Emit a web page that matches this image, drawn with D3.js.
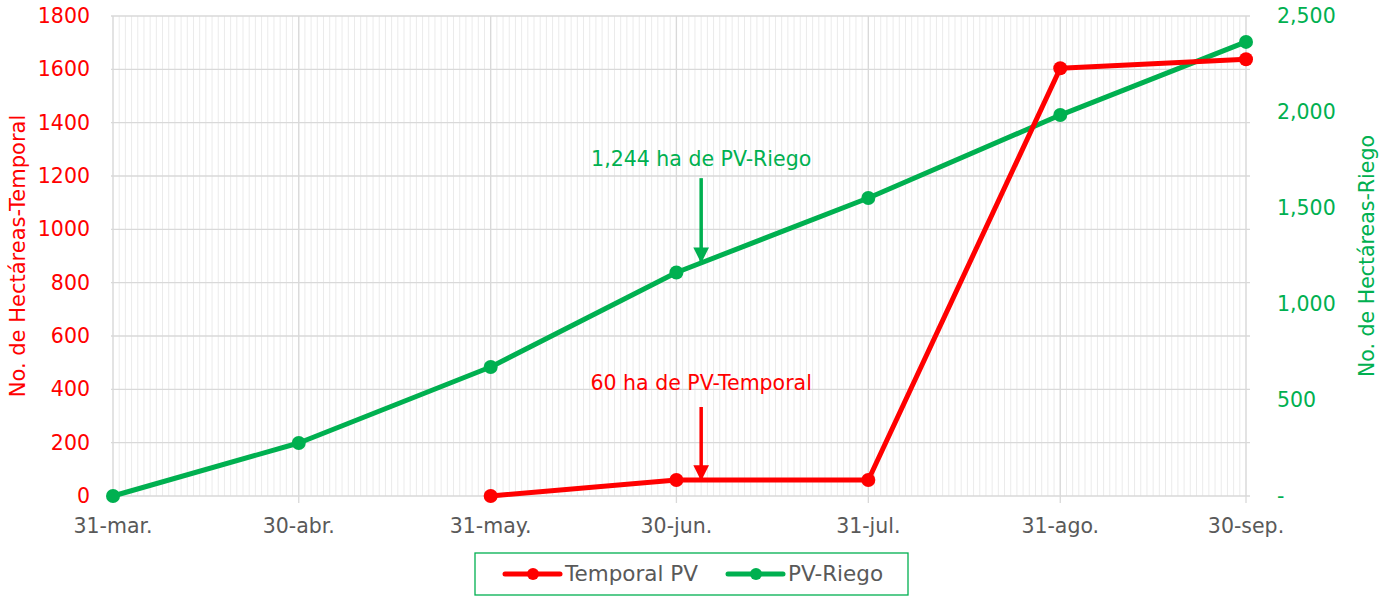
<!DOCTYPE html>
<html>
<head>
<meta charset="utf-8">
<script src="https://cdn.jsdelivr.net/npm/d3@7"></script>
<style>
  body { margin: 0; background: #fff; }
  text { font-family: "DejaVu Sans", sans-serif; }
</style>
</head>
<body>
<div id="chart"></div>
<script>
// data
const xTickDates = ["2023-03-31", "2023-04-30", "2023-05-31", "2023-06-30", "2023-07-31", "2023-08-31", "2023-09-30"];
const xTickLabels = ["31-mar.", "30-abr.", "31-may.", "30-jun.", "31-jul.", "31-ago.", "30-sep."];

const temporalDates = ["2023-05-31", "2023-06-30", "2023-07-31", "2023-08-31", "2023-09-30"];
const temporalValues = [0, 60, 60, 1604, 1638];

const riegoDates = ["2023-03-31", "2023-04-30", "2023-05-31", "2023-06-30", "2023-07-31", "2023-08-31", "2023-09-30"];
const riegoValues = [0, 276, 672, 1164, 1552, 1984, 2365];

const leftTicks = [0, 200, 400, 600, 800, 1000, 1200, 1400, 1600, 1800];
const rightTicks = [0, 500, 1000, 1500, 2000, 2500];

const red = "#FF0000", green = "#00B050", gray = "#595959";

const width = 1383, height = 596;
const margin = { top: 16, right: 137, bottom: 100, left: 113 };

const parse = d3.timeParse("%Y-%m-%d");

const svg = d3.select("#chart").append("svg")
  .attr("width", width)
  .attr("height", height);

const x = d3.scaleTime()
  .domain([parse(xTickDates[0]), parse(xTickDates[xTickDates.length - 1])])
  .range([margin.left, width - margin.right]);
const yL = d3.scaleLinear().domain([0, 1800]).range([height - margin.bottom, margin.top]);
const yR = d3.scaleLinear().domain([0, 2500]).range([height - margin.bottom, margin.top]);

const x0 = margin.left - 2, x1 = width - margin.right + 4;
const yb = height - margin.bottom, yt = margin.top;

// daily minor gridlines
const days = d3.timeDay.range(x.domain()[0], d3.timeDay.offset(x.domain()[1], 1));
svg.append("g").selectAll("line").data(days).join("line")
  .attr("x1", d => x(d)).attr("x2", d => x(d))
  .attr("y1", yt).attr("y2", yb)
  .attr("stroke", "#EBEBEB").attr("stroke-width", 1);

// horizontal gridlines
svg.append("g").selectAll("line").data(leftTicks).join("line")
  .attr("x1", x0).attr("x2", x1)
  .attr("y1", d => yL(d)).attr("y2", d => yL(d))
  .attr("stroke", "#D9D9D9").attr("stroke-width", 1.3);

// major vertical gridlines + ticks
svg.append("g").selectAll("line").data(xTickDates).join("line")
  .attr("x1", d => x(parse(d))).attr("x2", d => x(parse(d)))
  .attr("y1", yt).attr("y2", yb + 7)
  .attr("stroke", "#D9D9D9").attr("stroke-width", 1.3);

// x axis labels
svg.append("g").selectAll("text").data(xTickDates).join("text")
  .attr("x", d => x(parse(d)))
  .attr("y", yb + 37)
  .attr("text-anchor", "middle")
  .attr("fill", gray)
  .attr("font-size", 20.5)
  .text((d, i) => xTickLabels[i]);

// left axis
const leftAxis = svg.append("g")
  .attr("transform", `translate(${margin.left - 23},0)`)
  .call(d3.axisLeft(yL).tickValues(leftTicks).tickSize(0).tickPadding(0)
    .tickFormat(d3.format("d")));
leftAxis.select(".domain").remove();
leftAxis.selectAll("text").attr("fill", red).attr("font-size", 20.5)
  .style("font-family", "DejaVu Sans, sans-serif");

// right axis
const rightAxis = svg.append("g")
  .attr("transform", `translate(${width - margin.right + 31},0)`)
  .call(d3.axisRight(yR).tickValues(rightTicks).tickSize(0).tickPadding(0)
    .tickFormat(d => d === 0 ? "-" : d3.format(",")(d)));
rightAxis.select(".domain").remove();
rightAxis.selectAll("text").attr("fill", green).attr("font-size", 20.5)
  .style("font-family", "DejaVu Sans, sans-serif");

// axis titles
svg.append("text")
  .attr("transform", `translate(25,${(yt + yb) / 2}) rotate(-90)`)
  .attr("text-anchor", "middle")
  .attr("fill", red).attr("font-size", 21)
  .text("No. de Hectáreas-Temporal");

svg.append("text")
  .attr("transform", `translate(1374,${(yt + yb) / 2}) rotate(-90)`)
  .attr("text-anchor", "middle")
  .attr("fill", green).attr("font-size", 20.5)
  .text("No. de Hectáreas-Riego");

// series
const riego = riegoDates.map((d, i) => ({ date: parse(d), value: riegoValues[i] }));
const temporal = temporalDates.map((d, i) => ({ date: parse(d), value: temporalValues[i] }));

function drawSeries(data, yScale, color) {
  svg.append("path").datum(data)
    .attr("fill", "none")
    .attr("stroke", color)
    .attr("stroke-width", 5)
    .attr("stroke-linejoin", "round")
    .attr("d", d3.line().x(d => x(d.date)).y(d => yScale(d.value)));
  svg.append("g").selectAll("circle").data(data).join("circle")
    .attr("cx", d => x(d.date)).attr("cy", d => yScale(d.value))
    .attr("r", 7).attr("fill", color);
}
drawSeries(riego, yR, green);
drawSeries(temporal, yL, red);

// annotations
const defs = svg.append("defs");
[["arrowG", green], ["arrowR", red]].forEach(([id, c]) => {
  defs.append("marker").attr("id", id)
    .attr("viewBox", "0 0 10 10").attr("refX", 10).attr("refY", 5)
    .attr("markerWidth", 4.5).attr("markerHeight", 4.5)
    .attr("markerUnits", "strokeWidth")
    .attr("orient", "auto")
    .append("path").attr("d", "M0,0 L10,5 L0,10 Z").attr("fill", c);
});

const annDate = parse("2023-07-04");
svg.append("text")
  .attr("x", x(annDate)).attr("y", yR(1244) - 91)
  .attr("text-anchor", "middle")
  .attr("fill", green).attr("font-size", 20.5)
  .text("1,244 ha de PV-Riego");
svg.append("line")
  .attr("x1", x(annDate)).attr("x2", x(annDate))
  .attr("y1", yR(1244) - 79).attr("y2", yR(1244) + 6)
  .attr("stroke", green).attr("stroke-width", 3.5)
  .attr("marker-end", "url(#arrowG)");

svg.append("text")
  .attr("x", x(annDate)).attr("y", yL(60) - 90)
  .attr("text-anchor", "middle")
  .attr("fill", red).attr("font-size", 20.5)
  .text("60 ha de PV-Temporal");
svg.append("line")
  .attr("x1", x(annDate)).attr("x2", x(annDate))
  .attr("y1", yL(60) - 73).attr("y2", yL(60) + 1)
  .attr("stroke", red).attr("stroke-width", 3.5)
  .attr("marker-end", "url(#arrowR)");

// legend
const legend = svg.append("g").attr("transform", "translate(475,553)");
legend.append("rect")
  .attr("width", 433).attr("height", 42)
  .attr("fill", "#fff").attr("stroke", green).attr("stroke-width", 1.3);
const items = [
  { label: "Temporal PV", color: red, x: 30 },
  { label: "PV-Riego", color: green, x: 253 }
];
items.forEach(it => {
  const g = legend.append("g").attr("transform", `translate(${it.x},21)`);
  g.append("line").attr("x1", 0).attr("x2", 55)
    .attr("stroke", it.color).attr("stroke-width", 5).attr("stroke-linecap", "round");
  g.append("circle").attr("cx", 28).attr("r", 6).attr("fill", it.color);
  g.append("text").attr("x", 60).attr("y", 7)
    .attr("fill", gray).attr("font-size", 21.5)
    .text(it.label);
});
</script>
</body>
</html>
